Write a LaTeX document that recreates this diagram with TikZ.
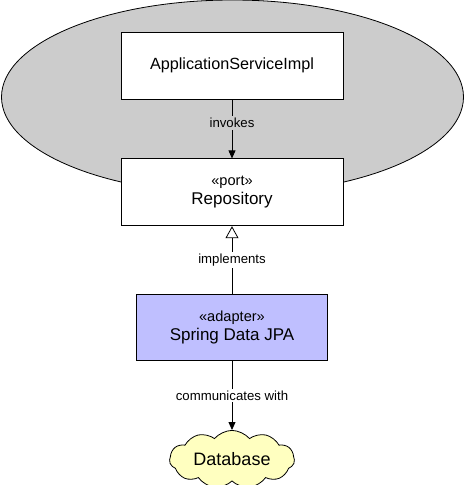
\documentclass[tikz,border=0pt]{standalone}
\usepackage{fontspec}
\setmainfont{Liberation Sans}
\usepackage{tikz}
\usetikzlibrary{positioning,shapes.geometric,shapes.symbols,arrows.meta}
\definecolor{groupgray}{RGB}{204,204,204}
\definecolor{adapterblue}{RGB}{191,191,255}
\definecolor{dbyellow}{RGB}{255,255,192}
\newcommand{\stereo}[2]{{\fontsize{14.6}{17}\selectfont «#1»}\\{\fontsize{17}{20}\selectfont #2}}

\begin{document}
\begin{tikzpicture}[
    line width=0.8pt,
    box/.style={draw, rectangle, fill=white, align=center,
                minimum width=222pt, minimum height=67pt,
                font=\fontsize{16.2}{19}\selectfont},
    adapter/.style={box, fill=adapterblue, minimum width=191pt, minimum height=66pt},
    edgelabel/.style={fill=white, inner sep=2pt, font=\fontsize{13.2}{15}\selectfont},
    node distance=59pt]

    \useasboundingbox (0,0) rectangle (465pt,-485pt);

    \node[draw, ellipse, fill=groupgray, minimum width=462pt, minimum height=194pt,
          inner sep=0pt] (core) at (232.5pt,-97pt) {};

    \node[box] (app) at (232pt,-65.5pt) {ApplicationServiceImpl};
    \node[box, below=59pt of app] (repo) {\stereo{port}{Repository}};
    \node[adapter, below=68pt of repo] (jpa) {\stereo{adapter}{Spring Data JPA}};
    \node[draw, cloud, cloud puffs=11, cloud puff arc=100, aspect=2.4,
          fill=dbyellow, minimum width=125pt, minimum height=54pt, inner sep=0pt,
          font=\fontsize{18}{21}\selectfont, below=69pt of jpa] (db) {Database};

    \draw[-{Triangle[length=8pt,width=7pt]}] (app) -- node[edgelabel, pos=0.4, fill=groupgray] {invokes} (repo);
    \draw[-{Triangle[open,length=12pt,width=13pt]}] (jpa) -- node[edgelabel] {implements} (repo);
    \draw[-{Triangle[length=8pt,width=7pt]}] (jpa) -- node[edgelabel] {communicates with} (db);

\end{tikzpicture}
\end{document}
